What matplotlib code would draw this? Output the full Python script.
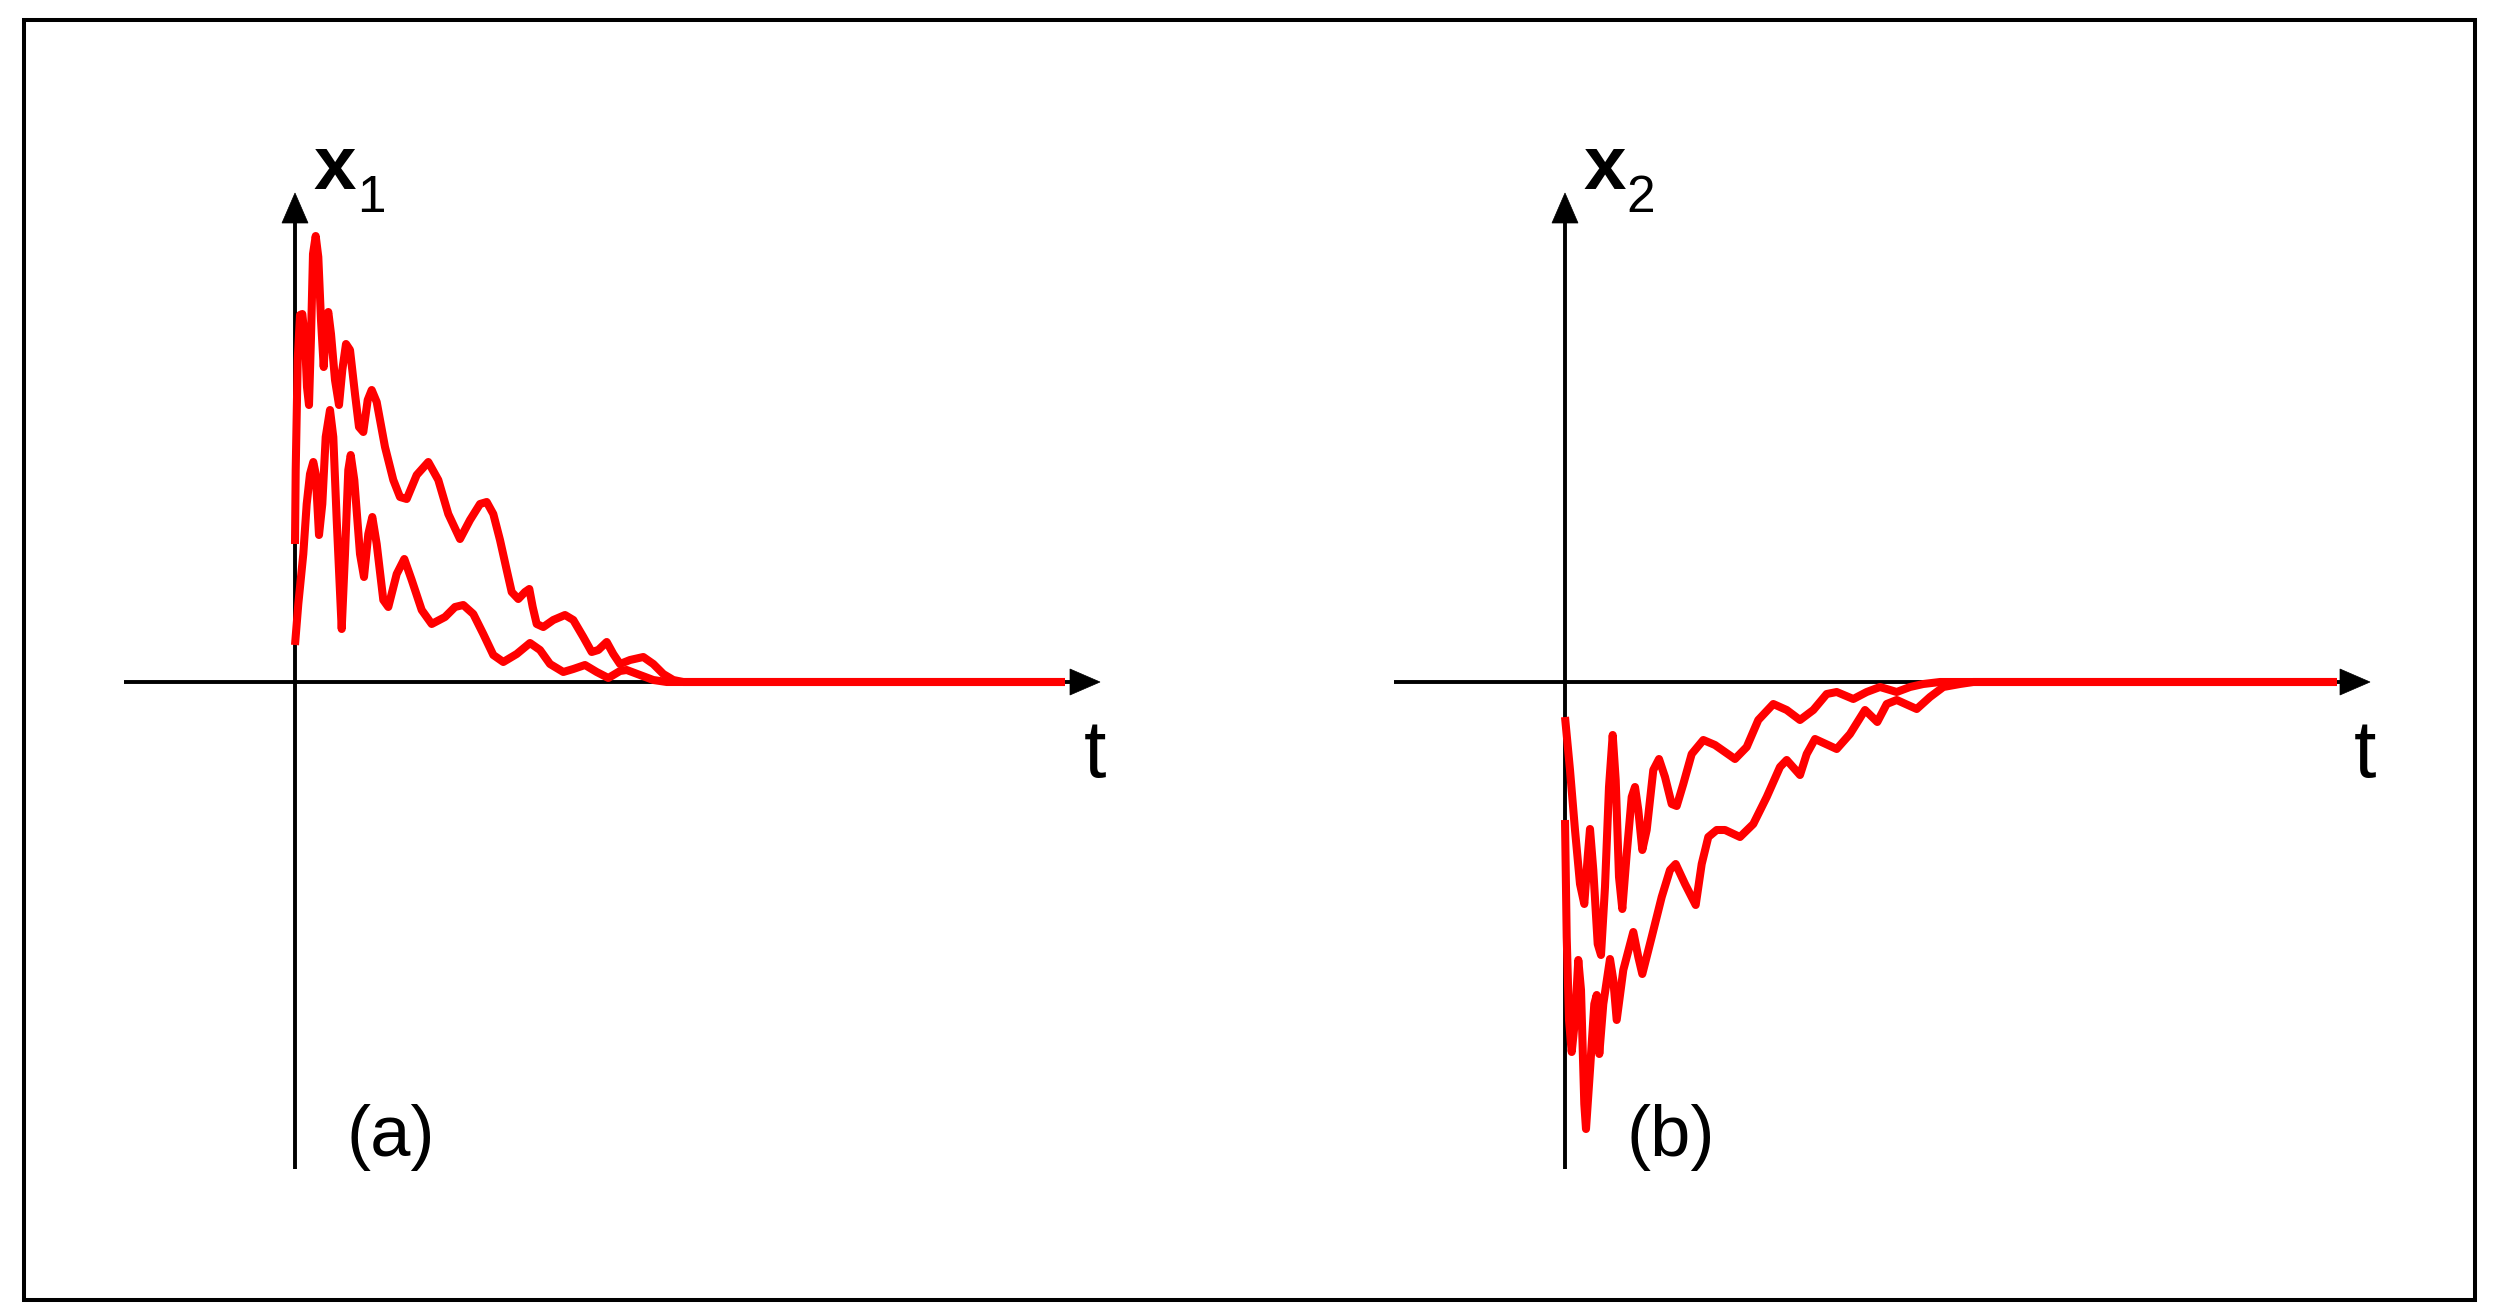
import matplotlib
matplotlib.use("Agg")
import matplotlib.pyplot as plt
from matplotlib.patches import Polygon, Rectangle

# ---------------- data (arbitrary units) ----------------
# panel (a): x1(t), two responses
a_up_t = [0, 0.7, 2.7, 5, 7.3, 10, 12, 14, 16, 18, 20.7, 23.3, 26, 28.7, 31.3, 33.3, 36, 40, 44,
          47.3, 51, 55, 60, 64, 68.3, 72.7, 76.7, 81.7, 90, 98.3, 105, 111.7, 121.7, 133.3, 143.3,
          153.3, 165, 175, 185, 191.7, 198.3, 205, 211.7, 216.7, 223.3, 230, 234.3, 237.7, 241.7,
          248.3, 258.3, 270, 278.3, 288.3, 296.7, 303.3, 311.7, 318.3, 325, 335, 348.3, 358.3,
          368.3, 378.3, 388.3, 770]
a_up_x = [138, 212, 322, 367, 368, 342, 295, 277, 345, 428, 446, 425, 362, 315, 362, 370, 348, 302,
          277, 312, 338, 332, 288, 255, 250, 282, 292, 280, 235, 202, 185, 183, 207, 220, 202, 168,
          143, 162, 178, 180, 168, 142, 112, 90, 83, 90, 93, 75, 58, 55, 62, 67, 62, 45, 30, 32, 40,
          28, 18, 22, 25, 18, 8, 2, 0, 0]

a_lo_t = [0, 3.3, 8.3, 11.7, 15, 18.3, 20.7, 24, 27.3, 30.7, 35, 38.3, 41.7, 46.7, 50, 53.3, 55.7,
          59.3, 65, 69, 73.3, 77.3, 81.7, 88.3, 93.3, 101.7, 109.3, 116.7, 126.7, 136.7, 150, 160,
          168.3, 178.3, 188.3, 198.3, 208.3, 221.7, 235, 245, 255, 268.3, 278.3, 290, 301.7, 313.3,
          325, 331.7, 345, 358.3, 371.7, 770]
a_lo_x = [37, 78, 128, 178, 208, 220, 208, 147, 178, 245, 272, 245, 162, 53, 128, 212, 227, 202,
          128, 105, 148, 165, 138, 82, 75, 108, 123, 102, 72, 58, 65, 75, 77, 68, 48, 27, 20, 28,
          39, 32, 18, 10, 13, 17, 10, 4, 11, 12, 7, 2, 0, 0]

# panel (b): x2(t), two responses
b_up_t = [0, 5, 10, 15, 19.3, 22.7, 25, 28.3, 32.7, 36, 40, 44, 47.7, 50.7, 54, 57.3, 61.7, 66.7,
          70, 73.3, 77.3, 81.7, 88.3, 94, 100, 106.7, 111.7, 118.3, 126.7, 138.3, 150, 160, 170,
          181.7, 193.3, 208.3, 221.7, 235, 248.3, 261.7, 271.7, 288.3, 301.7, 315, 331.7, 345,
          358.3, 375, 772]
b_up_x = [-35, -88, -148, -202, -222, -175, -147, -188, -262, -273, -205, -105, -53, -98, -195,
          -227, -172, -115, -105, -128, -168, -148, -88, -77, -95, -122, -124, -102, -72, -58, -63,
          -70, -77, -65, -38, -22, -28, -38, -28, -12, -10, -17, -10, -5, -10, -5, -2, 0, 0]

b_lo_t = [0, 1.7, 4, 6.7, 10, 13.3, 16, 19.3, 21, 25, 29.3, 31.7, 34.3, 38.3, 45, 48.3, 51.7, 58.3,
          68.3, 73.3, 77.3, 86.7, 96.7, 105, 110.7, 120, 130.7, 136.7, 143.3, 151.7, 160, 175,
          188.3, 201.7, 215, 221.7, 235, 241.7, 250, 271.7, 285, 300, 312.3, 321.7, 331.7, 351.7,
          365, 378.3, 395, 408.3, 772]
b_lo_x = [-138, -255, -338, -370, -338, -278, -308, -422, -447, -388, -322, -313, -372, -322, -277,
          -298, -338, -288, -250, -275, -292, -255, -215, -188, -182, -202, -223, -182, -155, -148,
          -148, -155, -142, -115, -85, -78, -93, -72, -57, -67, -52, -28, -40, -22, -18, -27, -15,
          -5, -2, 0, 0]

panel_labels = ["(a)", "(b)"]
ylabels = ["1", "2"]
t_label = "t"

# ---------------- figure ----------------
W, H, DPI = 2500, 1314, 100
fig = plt.figure(figsize=(W / DPI, H / DPI), dpi=DPI)
fig.patch.set_facecolor("white")

RED = "#ff0000"
FONT = ["Liberation Sans", "DejaVu Sans"]

# outer frame
fig.add_artist(Rectangle((24 / W, (H - 1300) / H), 2451 / W, 1280 / H,
                         transform=fig.transFigure, fill=False, edgecolor="black",
                         linewidth=2.9))

panels = [
    (100, [(a_up_t, a_up_x), (a_lo_t, a_lo_x)]),
    (1370, [(b_up_t, b_up_x), (b_lo_t, b_lo_x)]),
]

for i, (left_px, curves) in enumerate(panels):
    ax = fig.add_axes([left_px / W, (H - 1250) / H, 1100 / W, 1150 / H])
    ax.set_xlim(-195, 905)
    ax.set_ylim(-568, 582)
    ax.axis("off")

    # axes with arrows
    ax.plot([-171, 780], [0, 0], color="black", lw=2.8, solid_capstyle="butt", zorder=2)
    ax.plot([0, 0], [-487, 465], color="black", lw=2.8, solid_capstyle="butt", zorder=2)
    ax.add_patch(Polygon([[775, 13], [805, 0], [775, -13]], closed=True,
                         facecolor="black", edgecolor="black", lw=0.5, zorder=4))
    ax.add_patch(Polygon([[-13, 459], [0, 489], [13, 459]], closed=True,
                         facecolor="black", edgecolor="black", lw=0.5, zorder=4))

    for t, x in curves:
        ax.plot(t, x, color=RED, lw=5.8, solid_joinstyle="round",
                solid_capstyle="butt", zorder=3)

    # labels
    ax.text(40, 493, "x", fontsize=55, fontweight="bold", family=FONT,
            ha="center", va="baseline")
    ax.text(76, 470, ylabels[i], fontsize=37, family=FONT, ha="center", va="baseline")
    ax.text(800, -95, t_label, fontsize=58, family=FONT, ha="center", va="baseline")
    ax.text(96 + 10 * i, -474, panel_labels[i], fontsize=52, family=FONT,
            ha="center", va="baseline")

fig.savefig("out.png", dpi=DPI)
